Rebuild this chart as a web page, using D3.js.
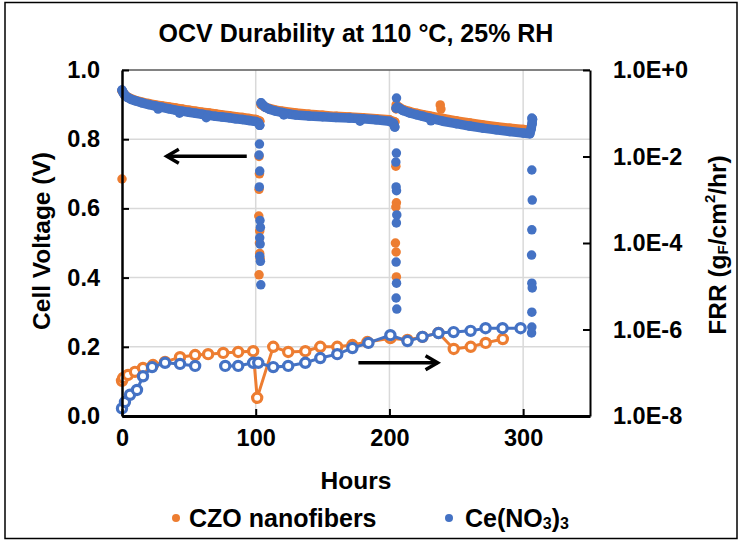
<!DOCTYPE html>
<html>
<head>
<meta charset="utf-8">
<script src="https://cdn.jsdelivr.net/npm/d3@7"></script>
<style>
  body { margin: 0; background: #fff; }
  text { font-family: "Liberation Sans", Arial, sans-serif; font-weight: bold; fill: #000; }
</style>
</head>
<body>
<svg id="chart" width="741" height="542"></svg>
<script>
// ---- Cell voltage (V), three ~100 h OCV holds; null separates holds ----
const czoHours = [0,2,5,10,15,20,25,30,35,40,45,50,55,60,65,70,75,80,85,90,95,100,103,null,
  104,107,110,115,120,130,140,150,160,170,180,190,200,204,null,
  205,207,210,215,220,225,230,240,250,260,270,280,290,300,303];
const czoVolt = [.940,.928,.920,.912,.907,.903,.899,.896,.893,.890,.887,.884,.881,.878,.876,.873,.870,.868,.865,.863,.860,.857,.852,null,
  .900,.893,.889,.884,.881,.876,.872,.869,.866,.864,.862,.859,.856,.850,null,
  .888,.893,.886,.880,.875,.871,.867,.860,.853,.847,.841,.836,.832,.828,.826];

const ceHours = [0,1,2,4,7,10,15,20,25,30,35,40,45,50,55,60,65,70,75,80,85,90,95,100,102,103,null,
  104,105,107,110,115,120,125,130,140,150,160,170,180,190,200,203,204,null,
  205,206,208,210,215,220,225,230,240,250,260,270,280,290,300,305,306,307];
const ceVolt = [.942,.934,.928,.921,.915,.911,.905,.900,.896,.892,.888,.884,.881,.878,.875,.872,.869,.866,.864,.862,.859,.857,.854,.851,.848,.840,null,
  .905,.900,.893,.887,.881,.877,.873,.870,.867,.865,.863,.861,.859,.856,.852,.846,.835,null,
  .890,.893,.888,.883,.876,.871,.866,.861,.852,.845,.838,.832,.827,.822,.818,.816,.830,.858];

// Scattered voltage readings (FRR sampling interruptions, start-up, spikes)
const czoSpotHours = [0,102.5,102.8,102.5,102.3,103,102.8,103,103.3,102.5,205,204.8,205.2,204.8,204.5,205,205.2,238,238.5];
const czoSpotVolt  = [.685,.750,.700,.655,.578,.535,.500,.470,.455,.408,.899,.722,.616,.604,.500,.474,.402,.899,.887];
const ceSpotHours = [27,43,63,121,178,231,102.8,102.5,103,102.7,103.2,103.5,103,103.3,103,103.5,103.8,
  205.3,205.2,204.8,205,205.3,205.5,205.2,205,205.3,205,205.5,
  306.5,306.8,306.5,306.8,306.5,306.3,306.5,306.8,306.5,306.5,306.3];
const ceSpotVolt  = [.887,.875,.862,.870,.852,.853,.786,.754,.708,.662,.565,.545,.515,.497,.462,.447,.379,
  .919,.760,.734,.662,.651,.581,.558,.445,.384,.341,.309,
  .861,.845,.711,.624,.538,.465,.384,.370,.300,.257,.240];

// ---- Fluoride release rate (g_F/cm²/hr) ----
const czoFrrHours = [0,1,4.5,9.7,15.7,23.2,32.2,43.4,54.7,64.4,75.7,86.9,98.1,101.1,113.1,124.3,137.1,148.3,161.0,172.3,183.5,200.7,213.5,224.7,236.7,248.1,260.8,272.0,284.8];
const czoFrr = [6.5e-8,7.6e-8,8.9e-8,1.05e-7,1.29e-7,1.51e-7,1.78e-7,2.29e-7,2.57e-7,2.69e-7,2.88e-7,3.02e-7,3.16e-7,2.63e-8,3.98e-7,3.02e-7,3.16e-7,3.98e-7,3.98e-7,4.37e-7,5.13e-7,6.31e-7,5.75e-7,6.76e-7,8.32e-7,3.55e-7,3.98e-7,4.90e-7,6.03e-7];

const ceFrrHours = [0,2.2,6,11.2,15.7,22.5,32.2,43.4,54.7,null,77.2,86.9,98.1,101.9,113.1,124.3,137.1,148.3,161,172.3,184.3,200.7,213.5,224.7,236.7,248,260.7,271.9,284.6,298.1];
const ceFrr = [1.5e-8,2.1e-8,3.1e-8,4.0e-8,8.3e-8,1.35e-7,1.7e-7,1.6e-7,1.44e-7,null,1.44e-7,1.44e-7,1.7e-7,1.7e-7,1.35e-7,1.44e-7,1.7e-7,2.19e-7,2.69e-7,3.72e-7,4.9e-7,7.4e-7,5.4e-7,6.76e-7,8.3e-7,8.7e-7,9.3e-7,1.07e-6,1.07e-6,1.07e-6];

// ---- Axis ticks and labels ----
const voltTicks = [0, 0.2, 0.4, 0.6, 0.8, 1.0];
const hourTicks = [0, 100, 200, 300];
const frrTicks = [1, 1e-2, 1e-4, 1e-6, 1e-8];
const seriesNames = ["CZO nanofibers", "Ce(NO3)3"];
const colors = { czo: "#ED7D31", ce: "#4472C4" };

const svg = d3.select("#chart");

// outer chart frame
svg.append("rect").attr("x", 5).attr("y", 2.5).attr("width", 732).attr("height", 536)
  .attr("fill", "#fff").attr("stroke", "#000").attr("stroke-width", 1.5);

const x = d3.scaleLinear().domain([0, 350]).range([122, 590]);
const y = d3.scaleLinear().domain([0, 1]).range([416, 70]);
const yR = d3.scaleLog().domain([1e-8, 1]).range([416, 70]);

// gridlines
const grid = svg.append("g").attr("stroke", "#d9d9d9").attr("stroke-width", 1.5);
grid.selectAll(".gh").data(voltTicks.filter(v => v > 0 && v < 1)).join("line")
  .attr("x1", x(0)).attr("x2", x(350)).attr("y1", d => y(d)).attr("y2", d => y(d));
grid.selectAll(".gv").data(hourTicks.filter(v => v > 0)).join("line")
  .attr("x1", d => x(d)).attr("x2", d => x(d)).attr("y1", y(1)).attr("y2", y(0));
// plot-area top edge
svg.append("line").attr("x1", x(0)).attr("x2", x(350)).attr("y1", y(1)).attr("y2", y(1))
  .attr("stroke", "#595959").attr("stroke-width", 1.5);

function zipPts(ts, vs) { return ts.map((t, i) => ({ t, v: vs[i] })); }

// ---- voltage series: dense markers forming a continuous band ----
function drawVoltage(ts, vs, sts, svs, color) {
  const pts = zipPts(ts, vs);
  const line = d3.line().defined(d => d.t != null && d.v != null).x(d => x(d.t)).y(d => y(d.v));
  svg.append("path").attr("d", line(pts)).attr("fill", "none").attr("stroke", color)
    .attr("stroke-width", 9.5).attr("stroke-linecap", "round").attr("stroke-linejoin", "round");
  svg.append("g").selectAll("circle").data(pts.filter(d => d.v != null).concat(zipPts(sts, svs)))
    .join("circle").attr("cx", d => x(d.t)).attr("cy", d => y(d.v)).attr("r", 4.75).attr("fill", color);
}

// ---- FRR series: open markers joined by lines, on the log axis ----
function drawFrr(ts, vs, color) {
  const pts = zipPts(ts, vs);
  const line = d3.line().defined(d => d.v != null).x(d => x(d.t)).y(d => yR(d.v));
  svg.append("path").attr("d", line(pts)).attr("fill", "none").attr("stroke", color).attr("stroke-width", 3);
  svg.append("g").selectAll("circle").data(pts.filter(d => d.v != null)).join("circle")
    .attr("cx", d => x(d.t)).attr("cy", d => yR(d.v)).attr("r", 4.6)
    .attr("fill", "#fff").attr("stroke", color).attr("stroke-width", 3.2);
}

drawVoltage(czoHours, czoVolt, czoSpotHours, czoSpotVolt, colors.czo);
drawVoltage(ceHours, ceVolt, ceSpotHours, ceSpotVolt, colors.ce);
drawFrr(czoFrrHours, czoFrr, colors.czo);
drawFrr(ceFrrHours, ceFrr, colors.ce);

// ---- axes ----
const tickFont = "23.5px";
const gL = svg.append("g").attr("transform", `translate(${x(0)},0)`)
  .call(d3.axisLeft(y).tickValues(voltTicks).tickFormat(d3.format(".1f")).tickSizeInner(-7).tickSizeOuter(0).tickPadding(22));
const gR = svg.append("g").attr("transform", `translate(${x(350)},0)`)
  .call(d3.axisRight(yR).tickValues(frrTicks)
    .tickFormat(d => { const e = Math.round(Math.log10(d)); return "1.0E" + (e >= 0 ? "+" + e : e); })
    .tickSizeInner(-7).tickSizeOuter(0).tickPadding(23));
const gB = svg.append("g").attr("transform", `translate(0,${y(0)})`)
  .call(d3.axisBottom(x).tickValues(hourTicks).tickFormat(d3.format("d")).tickSizeInner(-7).tickSizeOuter(0).tickPadding(13));
[gL, gR, gB].forEach(g => {
  g.selectAll("text").style("font-size", tickFont).style("font-family", null).attr("fill", "#000");
  g.selectAll("line").attr("stroke", "#000").attr("stroke-width", 2);
  g.select(".domain").attr("stroke", "#000");
  g.attr("font-family", null).attr("font-size", null);
});
gL.select(".domain").attr("stroke-width", 2.5);
gR.select(".domain").attr("stroke-width", 2);
gB.select(".domain").attr("stroke-width", 3);

// ---- titles ----
svg.append("text").attr("x", 356).attr("y", 33).attr("text-anchor", "middle")
  .attr("dominant-baseline", "central").style("font-size", "25px")
  .text("OCV Durability at 110 °C, 25% RH");
svg.append("text").attr("x", 356).attr("y", 480).attr("text-anchor", "middle")
  .attr("dominant-baseline", "central").style("font-size", "24.5px").text("Hours");
svg.append("text").attr("transform", "translate(41,241) rotate(-90)").attr("text-anchor", "middle")
  .attr("dominant-baseline", "central").style("font-size", "24.5px").text("Cell Voltage (V)");
const frrTitle = svg.append("text").attr("transform", "translate(717,245) rotate(-90)")
  .attr("text-anchor", "middle").attr("dominant-baseline", "central").style("font-size", "24.5px");
frrTitle.append("tspan").text("FRR (g");
frrTitle.append("tspan").attr("dy", 5).style("font-size", "15px").text("F");
frrTitle.append("tspan").attr("dy", -5).text("/cm");
frrTitle.append("tspan").attr("dy", -8).style("font-size", "15px").text("2");
frrTitle.append("tspan").attr("dy", 8).text("/hr)");

// ---- direction arrows (voltage → left axis, FRR → right axis) ----
function arrow(t0, t1, v, dir) {
  const x0 = x(t0), x1 = x(t1), yy = y(v);
  svg.append("line").attr("x1", x0).attr("x2", x1).attr("y1", yy).attr("y2", yy)
    .attr("stroke", "#000").attr("stroke-width", 3.5);
  svg.append("path").attr("d", `M${x1 - dir * 12},${yy - 7} L${x1},${yy} L${x1 - dir * 12},${yy + 7}`)
    .attr("fill", "none").attr("stroke", "#000").attr("stroke-width", 3.5).attr("stroke-linejoin", "miter");
}
arrow(93.3, 33.5, 0.751, -1);
arrow(176.8, 236, 0.154, 1);

// ---- legend ----
const leg = [{ cx: 176, tx: 189, color: colors.czo, name: seriesNames[0] },
             { cx: 449, tx: 465, color: colors.ce, name: seriesNames[1] }];
leg.forEach(l => {
  svg.append("circle").attr("cx", l.cx).attr("cy", 518).attr("r", 4).attr("fill", l.color);
  const t = svg.append("text").attr("x", l.tx).attr("y", 518).attr("dominant-baseline", "central")
    .style("font-size", "25px");
  if (l.name === "Ce(NO3)3") {
    t.append("tspan").text("Ce(NO");
    t.append("tspan").attr("dy", 5).style("font-size", "16px").text("3");
    t.append("tspan").attr("dy", -5).text(")");
    t.append("tspan").attr("dy", 5).style("font-size", "16px").text("3");
  } else {
    t.text(l.name);
  }
});
</script>
</body>
</html>
